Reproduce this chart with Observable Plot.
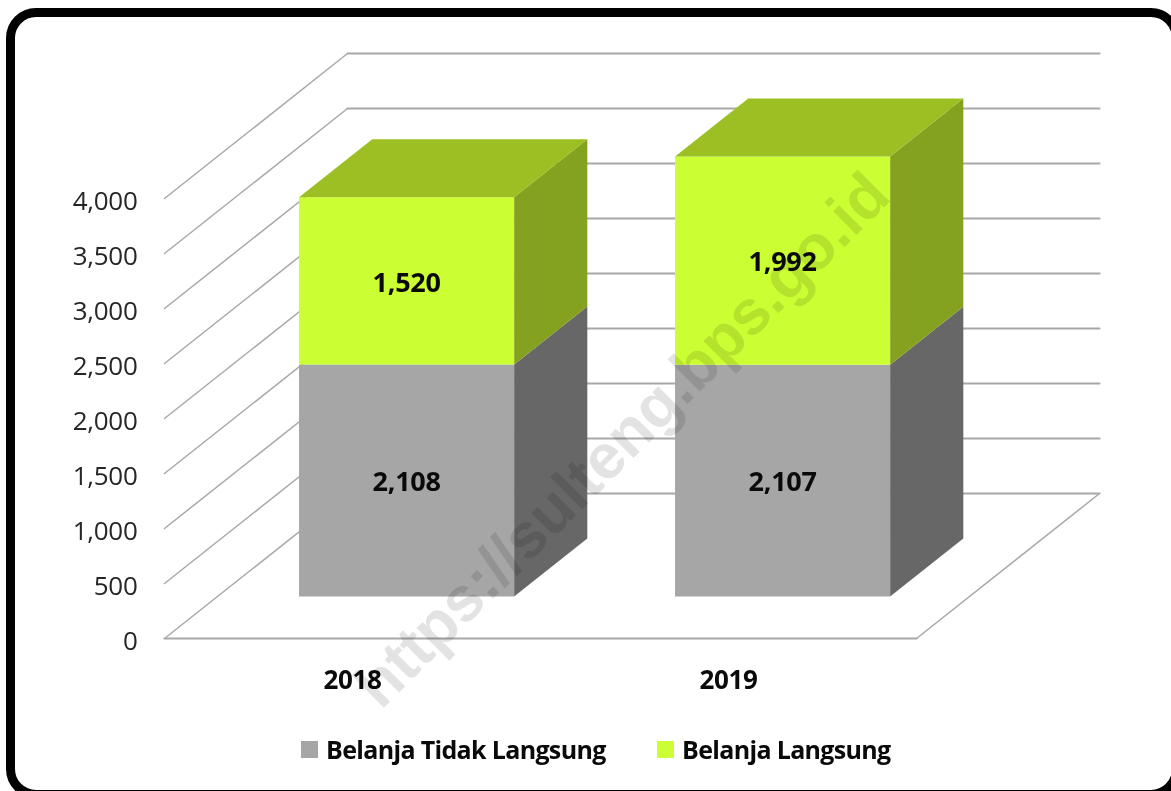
<!DOCTYPE html>
<html><head><meta charset="utf-8">
<script src="https://cdn.jsdelivr.net/npm/d3@7"></script>
<script src="https://cdn.jsdelivr.net/npm/@observablehq/plot@0.6"></script>
<style>
html,body{margin:0;padding:0;background:#fff;overflow:hidden;width:1171px;height:791px}
#stage{position:relative;width:1171px;height:791px;overflow:hidden;filter:blur(.45px)}
#card{position:absolute;left:6px;top:8px;width:1157px;height:773px;border:9px solid #000;border-radius:30px;box-sizing:content-box}
#chart{position:absolute;left:0;top:0}
#chart text{letter-spacing:-.3px}
.lg{position:absolute;font:700 25px "Open Sans",sans-serif;color:#0a0a0a;white-space:nowrap;line-height:30px;letter-spacing:-.66px}
.sw{position:absolute;width:17px;height:17px}
</style></head><body>
<div id="stage"><div id="card"></div><div id="chart"></div><div id="legend"></div></div>
<script>
const years = ["2018", "2019"];
const seriesNames = ["Belanja Tidak Langsung", "Belanja Langsung"];
const tidakLangsung = [2108, 2107];
const langsung = [1520, 1992];
const yTicks = [0, 500, 1000, 1500, 2000, 2500, 3000, 3500, 4000];
const axisMax = 4000;
const watermark = "https://sulteng.bps.go.id";
const frontColors = ["#a6a6a6", "#ccff33"];
const sideColors = ["#676767", "#84a120"];
const topColors = ["#7d7d7d", "#9cc024"];
const gridColor = "#a8a8a8";

// Oblique projection of the chart's 3D box: depth d (0 front … 1 back) shifts category and value
const depthX = 183 / 376;       // categories per unit of depth
const depthY = 145 / 0.11;      // value units per unit of depth
const P = (c, v, d) => ({x: c + d * depthX, y: v + d * depthY});
const barHalf = 0.286, barShift = 1 / 376, dFront = 0.29, dBack = 0.69;

const diagonals = [];
const backLines = [];
yTicks.forEach(v => {
  diagonals.push({id: "d" + v, ...P(0, v, 0)}, {id: "d" + v, ...P(0, v, 1)});
  backLines.push({id: "b" + v, ...P(0, v, 1)}, {id: "b" + v, ...P(2, v, 1)});
});
diagonals.push({id: "floorR", ...P(2, 0, 0)}, {id: "floorR", ...P(2, 0, 1)});
backLines.push({id: "floor", ...P(0, 0, 0)}, {id: "floor", ...P(2, 0, 0)});

const faces = [];
const addFace = (id, fill, pts) => pts.forEach(p => faces.push({id, fill, ...p}));
const labels = [];
years.forEach((yr, i) => {
  const cx = i + 0.5 + barShift, l = cx - barHalf, r = cx + barHalf;
  const vals = [tidakLangsung[i], langsung[i]];
  let base = 0;
  const tops = vals.map(v => { const b = base; base += v; return [b, Math.min(base, axisMax)]; });
  tops.forEach(([b, t], s) => {
    addFace(`${yr}-${s}-side`, sideColors[s], [P(r, b, dFront), P(r, b, dBack), P(r, t, dBack), P(r, t, dFront)]);
  });
  tops.forEach(([b, t], s) => {
    addFace(`${yr}-${s}-front`, frontColors[s], [P(l, b, dFront), P(r, b, dFront), P(r, t, dFront), P(l, t, dFront)]);
    labels.push({...P(cx, (b + t) / 2, dFront), text: d3.format(",")(vals[s])});
  });
  const t = tops[1][1];
  addFace(`${yr}-top`, topColors[1], [P(l, t, dFront), P(r, t, dFront), P(r, t, dBack), P(l, t, dBack)]);
});

const font = '"Open Sans",sans-serif';
const chart = Plot.plot({
  width: 1171, height: 791,
  marginTop: 0, marginRight: 0, marginBottom: 0, marginLeft: 0,
  style: {background: "transparent", overflow: "visible"},
  x: {domain: [-164 / 376, 1007 / 376], range: [0, 1171], axis: null},
  y: {domain: [638 / 0.11, -153 / 0.11], range: [0, 791], axis: null},
  color: {type: "identity"},
  marks: [
    Plot.line(diagonals, {x: "x", y: "y", z: "id", stroke: gridColor, strokeWidth: 1.5, curve: "linear"}),
    Plot.line(backLines, {x: "x", y: "y", z: "id", stroke: gridColor, strokeWidth: 2.1, curve: "linear"}),
    Plot.line(faces, {x: "x", y: "y", z: "id", fill: "fill", stroke: "none", curve: "linear-closed"}),
    Plot.text(yTicks, {x: -27 / 376, y: d => d, text: d => d3.format(",")(d), textAnchor: "end", dy: 3,
      fontFamily: font, fontSize: 26, fill: "#262626"}),
    Plot.text(years, {x: (d, i) => i + 0.5, y: -380, text: d => d, fontFamily: font, fontWeight: 700, fontSize: 26, fill: "#0a0a0a"}),
    Plot.text(labels, {x: "x", y: "y", text: "text", dy: 2, fontFamily: font, fontWeight: 700, fontSize: 27, fill: "#0a0a0a"}),
    Plot.text([watermark], {x: 458 / 376, y: (638 - 440) / 0.11, text: d => d, rotate: -45,
      fontFamily: '"Liberation Sans",sans-serif', fontWeight: 700, fontSize: 63, fill: "#000", fillOpacity: 0.11})
  ]
});
document.getElementById("chart").append(chart);

const legend = document.getElementById("legend");
[[301, 326], [657, 682]].forEach(([sx, tx], i) => {
  const sw = document.createElement("div");
  sw.className = "sw"; sw.style.cssText = `left:${sx}px;top:741px;background:${frontColors[i]}`;
  const t = document.createElement("div");
  t.className = "lg"; t.style.cssText = `left:${tx}px;top:734px`;
  t.textContent = seriesNames[i];
  legend.append(sw, t);
});
</script>
</body></html>
